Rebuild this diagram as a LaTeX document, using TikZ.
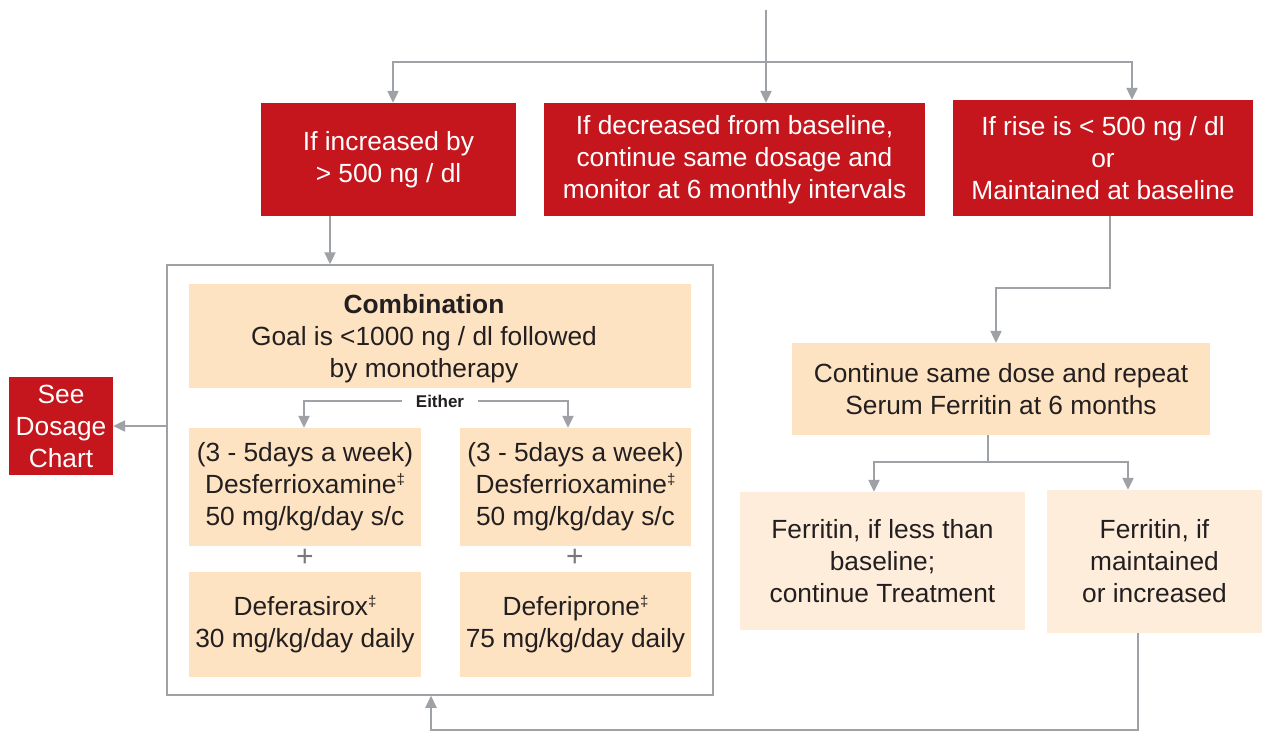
\documentclass[tikz,border=0pt]{standalone}
\usepackage{fontspec}
\setmainfont{Liberation Sans}
\usetikzlibrary{arrows.meta}
\definecolor{myred}{HTML}{C4161C}
\definecolor{peach}{HTML}{FEE3C2}
\definecolor{lightpeach}{HTML}{FEEDDA}
\definecolor{conn}{HTML}{9EA1A5}
\definecolor{txt}{HTML}{231F20}
\newcommand{\dg}{{\fontsize{15}{15}\selectfont\raisebox{9pt}{‡}}}
\begin{document}
\begin{tikzpicture}[x=1pt,y=-1pt,
  box/.style={inner sep=0pt,align=center,font=\fontsize{26.3}{32}\selectfont},
  redbox/.style={box,fill=myred,text=white},
  peachbox/.style={box,fill=peach,text=txt},
  lightbox/.style={box,fill=lightpeach,text=txt},
  ln/.style={draw=conn,line width=2.2pt},
  arr/.style={ln,-{Triangle[width=11pt,length=12pt]}}]
\useasboundingbox[fill=white] (0,0) rectangle (1266,750);
% outer frame
\node[draw=conn,line width=1.5pt,minimum width=546pt,minimum height=430pt,inner sep=0pt] (outer) at (440,480) {};
% red boxes
\node[redbox,minimum width=255pt,minimum height=113pt] (b1) at (388.5,159.5) {If increased by\\> 500 ng / dl};
\node[redbox,minimum width=381pt,minimum height=113pt] (b2) at (734.5,159.5) {If decreased from baseline,\\continue same dosage and\\monitor at 6 monthly intervals};
\node[redbox,minimum width=300pt,minimum height=116pt] (b3) at (1103,158) {If rise is < 500 ng / dl\\or\\Maintained at baseline};
\node[redbox,minimum width=104pt,minimum height=98pt] (see) at (61,426) {See\\Dosage\\Chart};
% combination
\node[peachbox,minimum width=502pt,minimum height=104pt] (comb) at (440,336) {};
\node[box,text=txt] (combtext) at (424,339) {\textbf{Combination}\\Goal is <1000 ng / dl followed\\by monotherapy};
\node[peachbox,minimum width=232pt,minimum height=118pt] (dl1) at (305,487) {(3 - 5days a week)\\Desferrioxamine\dg\\50 mg/kg/day s/c};
\node[peachbox,minimum width=231pt,minimum height=118pt] (dr1) at (575.5,487) {(3 - 5days a week)\\Desferrioxamine\dg\\50 mg/kg/day s/c};
\node[peachbox,minimum width=232pt,minimum height=105pt] (dl2) at (305,624.5) {Deferasirox\dg\\30 mg/kg/day daily};
\node[peachbox,minimum width=231pt,minimum height=105pt] (dr2) at (575.5,624.5) {Deferiprone\dg\\75 mg/kg/day daily};
\node[text=conn!75!black,font=\fontsize{30}{30}\selectfont,inner sep=0pt] (p1) at (305,558) {+};
\node[text=conn!75!black,font=\fontsize{30}{30}\selectfont,inner sep=0pt] (p2) at (575,558) {+};
\node[text=txt,font=\fontsize{17}{17}\bfseries,inner xsep=14pt,inner ysep=0pt] (either) at (440,401) {Either};
% right side
\node[peachbox,minimum width=418pt,minimum height=92pt] (cont) at (1001,389) {Continue same dose and repeat\\Serum Ferritin at 6 months};
\node[lightbox,minimum width=285pt,minimum height=138pt] (fl) at (882.5,561) {Ferritin, if less than\\baseline;\\continue Treatment};
\node[lightbox,minimum width=215pt,minimum height=143pt] (fr) at (1154.5,561.5) {Ferritin, if\\maintained\\or increased};
% connectors
\coordinate (top) at (766,10);
\coordinate (j1) at (766,62);
\draw[arr] (top) -- (top |- b2.north);
\draw[arr] (j1) -| ([xshift=4.5pt]b1.north);
\draw[arr] (j1) -| ([xshift=29pt]b3.north);
\draw[arr] ([xshift=-58.5pt]b1.south) -- ([xshift=-58.5pt]b1.south |- outer.north);
\draw[arr] (outer.west |- see.east) -- (see.east);
\draw[arr] (either.west) -| ([xshift=-1pt]dl1.north);
\draw[arr] (either.east) -| ([xshift=-7.5pt]dr1.north);
\draw[arr] ([xshift=7pt]b3.south) -- ++(0,72) -| ([xshift=-5pt]cont.north);
\coordinate (j2) at (988,462);
\draw[ln] ([xshift=-13pt]cont.south) -- (j2);
\draw[arr] (j2) -| ([xshift=-8.5pt]fl.north);
\draw[arr] (j2) -| ([xshift=-26.5pt]fr.north);
\coordinate (j3) at (431,730);
\draw[arr] ([xshift=-16.5pt]fr.south) |- (j3) -- (j3 |- outer.south);
\end{tikzpicture}
\end{document}
